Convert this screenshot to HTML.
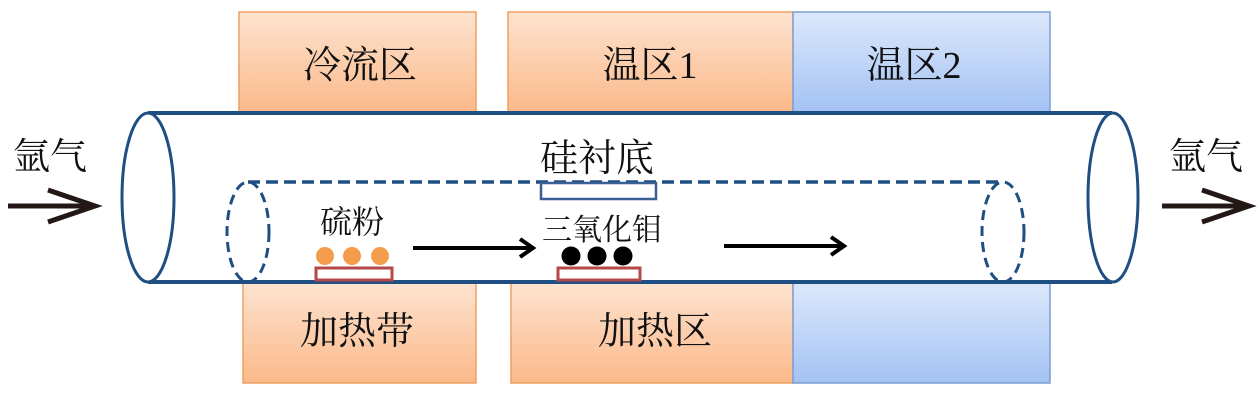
<!DOCTYPE html>
<html><head><meta charset="utf-8"><style>
body{margin:0;background:#fff;}
svg text{font-family:"Liberation Serif","Noto Serif CJK SC",serif;fill:#111;}
</style></head><body>
<svg width="1260" height="402" viewBox="0 0 1260 402" xmlns="http://www.w3.org/2000/svg">
<defs>
<linearGradient id="or" x1="0" y1="0" x2="0" y2="1"><stop offset="0" stop-color="#fde3cf"/><stop offset="1" stop-color="#fbb98a"/></linearGradient>
<linearGradient id="bl" x1="0" y1="0" x2="0" y2="1"><stop offset="0" stop-color="#dce8fb"/><stop offset="1" stop-color="#a4c2f4"/></linearGradient>
</defs>
<rect x="239" y="12" width="237" height="100" fill="url(#or)" stroke="#f0a060" stroke-width="1.5"/>
<rect x="508" y="12" width="285" height="100" fill="url(#or)" stroke="#f0a060" stroke-width="1.5"/>
<rect x="793" y="12" width="257" height="100" fill="url(#bl)" stroke="#7b9fd4" stroke-width="1.5"/>
<rect x="243" y="283" width="233" height="100" fill="url(#or)" stroke="#f0a060" stroke-width="1.5"/>
<rect x="511" y="283" width="282" height="100" fill="url(#or)" stroke="#f0a060" stroke-width="1.5"/>
<rect x="793" y="283" width="257" height="100" fill="url(#bl)" stroke="#7b9fd4" stroke-width="1.5"/>
<text x="360" y="78" font-size="38" text-anchor="middle">冷流区</text>
<text x="650" y="78" font-size="38" text-anchor="middle">温区1</text>
<text x="914" y="78" font-size="38" text-anchor="middle">温区2</text>
<text x="357" y="344" font-size="38" text-anchor="middle">加热带</text>
<text x="655" y="344" font-size="38" text-anchor="middle">加热区</text>
<rect x="148" y="113" width="964" height="169" fill="#fff"/>
<line x1="148" y1="113" x2="1112" y2="113" stroke="#1f4e82" stroke-width="4"/>
<line x1="148" y1="282" x2="1112" y2="282" stroke="#1f4e82" stroke-width="4"/>
<ellipse cx="148" cy="197.5" rx="26" ry="84.5" fill="#fff" stroke="#1f4e82" stroke-width="3"/>
<ellipse cx="1113" cy="197.5" rx="25" ry="84.5" fill="#fff" stroke="#1f4e82" stroke-width="3"/>
<line x1="248" y1="182" x2="1003" y2="182" stroke="#1f4e82" stroke-width="3.5" stroke-dasharray="12,6"/>
<ellipse cx="248" cy="232" rx="21" ry="50" fill="none" stroke="#1f4e82" stroke-width="3" stroke-dasharray="10,6"/>
<ellipse cx="1003" cy="232" rx="21" ry="50" fill="none" stroke="#1f4e82" stroke-width="3" stroke-dasharray="10,6"/>
<rect x="541" y="183" width="115" height="16" fill="#fff" stroke="#3a5f94" stroke-width="2.5"/>
<text x="597" y="171" font-size="38" text-anchor="middle">硅衬底</text>
<text x="352" y="233" font-size="32" text-anchor="middle">硫粉</text>
<text x="602" y="240" font-size="30" text-anchor="middle">三氧化钼</text>
<circle cx="325" cy="256" r="9" fill="#f39c4b"/><circle cx="352" cy="256" r="9" fill="#f39c4b"/><circle cx="380" cy="256" r="9" fill="#f39c4b"/>
<rect x="316" y="268" width="76" height="12" fill="#fff" stroke="#b5494a" stroke-width="3"/>
<circle cx="571" cy="256" r="9.5" fill="#000"/><circle cx="597" cy="256" r="9.5" fill="#000"/><circle cx="623" cy="256" r="9.5" fill="#000"/>
<rect x="558" y="268" width="82" height="12" fill="#fff" stroke="#b5494a" stroke-width="3"/>
<g stroke="#000" stroke-width="4" fill="none">
<line x1="413" y1="248" x2="532" y2="248"/><polyline points="520,239 533,248 520,257"/>
<line x1="724" y1="246" x2="843" y2="246"/><polyline points="831,237 844,246 831,255"/>
</g>
<g stroke="#231815" stroke-width="5" fill="none">
<line x1="8" y1="206" x2="94" y2="206"/><polyline points="48,190 95,206 48,222"/>
<line x1="1162" y1="206" x2="1248" y2="206"/><polyline points="1202,190 1249,206 1202,222"/>
</g>
<text x="50" y="169" font-size="37" text-anchor="middle">氩气</text>
<text x="1206" y="169" font-size="37" text-anchor="middle">氩气</text>
</svg>
</body></html>
